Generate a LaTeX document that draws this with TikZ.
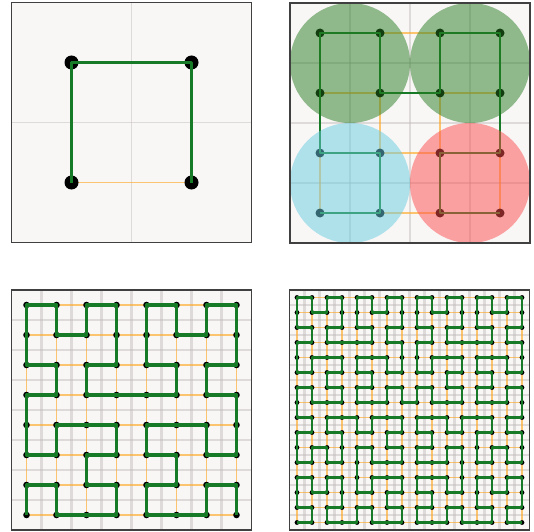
\documentclass[tikz,border=0pt]{standalone}
\usepackage{tikz}
\usetikzlibrary{lindenmayersystems}

\pgfdeclarelindenmayersystem{hilbert walk}{
  \rule{L -> +RF-LFL-FR+}
  \rule{R -> -LF+RFR+FL-}}

\definecolor{paper}{RGB}{249,246,246}
\definecolor{walkgreen}{RGB}{22,122,38}
\definecolor{edgeorange}{RGB}{255,170,40}
\definecolor{cellgray}{RGB}{190,186,186}
\definecolor{quadgreen}{RGB}{38,125,33}
\definecolor{quadblue}{RGB}{102,205,225}
\definecolor{quadred}{RGB}{252,75,75}

\tikzset{
  panelfill/.style={fill=paper},
  panelframe/.style={draw=black!75,line width=1.3pt},
  cellline/.style={draw=cellgray,opacity=.45},
  latticeedge/.style={draw=edgeorange,opacity=.65,line width=1.1pt},
  walkline/.style={draw=walkgreen,line join=round},
  quadrant/.style={opacity=.5}
}

% #1,#2 corner, #3 order, #4 dot radius, #5 walk width, #6 cell line width
\newcommand{\hilbertpanel}[6]{%
  \begin{scope}[shift={(#1,#2)}]
    \pgfmathtruncatemacro\npts{2^#3}
    \pgfmathtruncatemacro\nlast{\npts-1}
    \pgfmathsetmacro\cell{240/\npts}
    \fill[panelfill] (0,0) rectangle (240,240);
    \foreach \k in {1,...,\nlast}{
      \draw[cellline,line width=#6] ({\k*\cell},0) -- ({\k*\cell},240);
      \draw[cellline,line width=#6] (0,{\k*\cell}) -- (240,{\k*\cell});
    }
    \foreach \i in {0,...,\nlast}{
      \draw[latticeedge] ({(\i+.5)*\cell},{.5*\cell}) -- ({(\i+.5)*\cell},{240-.5*\cell});
      \draw[latticeedge] ({.5*\cell},{(\i+.5)*\cell}) -- ({240-.5*\cell},{(\i+.5)*\cell});
    }
    \foreach \i in {0,...,\nlast}
      \foreach \j in {0,...,\nlast}
        \fill ({(\i+.5)*\cell},{(\j+.5)*\cell}) circle[radius=#4];
    \begin{scope}[shift={({.5*\cell},{.5*\cell})}]
      \draw[walkline,line width=#5]
        lindenmayer system[lindenmayer system={hilbert walk,axiom=L,order=#3,step=\cell pt,angle=90}];
    \end{scope}
  \end{scope}
}

\begin{document}
\begin{tikzpicture}[x=1pt,y=1pt]
  \useasboundingbox (0,0) rectangle (534,531);

  \hilbertpanel{11.5}{288.5}{1}{7}{2.4pt}{1.3pt}
  \hilbertpanel{290}{288}{2}{4.5}{2.8pt}{1.6pt}
  \hilbertpanel{11.5}{1}{3}{3.3}{3.2pt}{2.2pt}
  \hilbertpanel{289.5}{1}{4}{2.4}{2.8pt}{2.4pt}

  % quadrants of the second panel
  \begin{scope}[shift={(290,288)}]
    \fill[quadgreen,quadrant] (60,180) circle[radius=60];
    \fill[quadgreen,quadrant] (180,180) circle[radius=60];
    \fill[quadblue,quadrant] (60,60) circle[radius=60];
    \fill[quadred,quadrant] (180,60) circle[radius=60];
  \end{scope}

  \foreach \px/\py in {11.5/288.5,290/288,11.5/1,289.5/1}
    \draw[panelframe] (\px,\py) rectangle ++(240,240);
\end{tikzpicture}
\end{document}
